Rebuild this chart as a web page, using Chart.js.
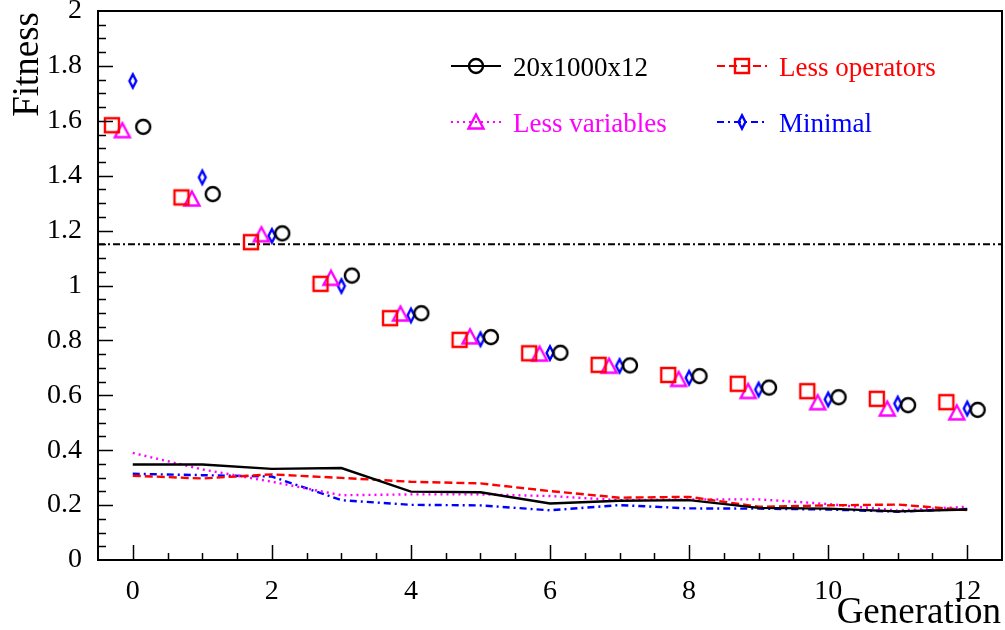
<!DOCTYPE html>
<html>
<head>
<meta charset="utf-8">
<script src="https://cdn.jsdelivr.net/npm/chart.js@4"></script>
<style>
  body { margin: 0; background: #fff; }
  #chart { display: block; }
</style>
</head>
<body>
<canvas id="chart" width="1005" height="630"></canvas>
<script>
var generations = [0, 1, 2, 3, 4, 5, 6, 7, 8, 9, 10, 11, 12];
var seriesNames = ['20x1000x12', 'Less operators', 'Less variables', 'Minimal'];

// best fitness per generation (markers)
var bestFull      = [1.578, 1.333, 1.190, 1.036, 0.899, 0.812, 0.755, 0.709, 0.670, 0.628, 0.593, 0.564, 0.547];
var bestLessOps   = [1.584, 1.321, 1.158, 1.006, 0.881, 0.802, 0.753, 0.711, 0.674, 0.642, 0.615, 0.587, 0.575];
var bestLessVars  = [1.564, 1.315, 1.185, 1.026, 0.896, 0.813, 0.750, 0.706, 0.658, 0.614, 0.573, 0.550, 0.536];
var bestMinimal   = [1.745, 1.394, 1.181, 0.998, 0.891, 0.804, 0.754, 0.707, 0.664, 0.621, 0.585, 0.570, 0.552];

// lower curves
var lowFull       = [0.348, 0.348, 0.332, 0.335, 0.249, 0.247, 0.206, 0.216, 0.218, 0.190, 0.187, 0.177, 0.184];
var lowLessOps    = [0.307, 0.297, 0.312, 0.299, 0.285, 0.279, 0.251, 0.227, 0.230, 0.194, 0.199, 0.202, 0.182];
var lowLessVars   = [0.390, 0.330, 0.285, 0.236, 0.239, 0.239, 0.233, 0.218, 0.221, 0.221, 0.204, 0.180, 0.194];
var lowMinimal    = [0.314, 0.309, 0.304, 0.218, 0.201, 0.199, 0.181, 0.200, 0.188, 0.187, 0.184, 0.176, 0.186];

var refLevel = 1.15;
var xTickLabels = [0, 2, 4, 6, 8, 10, 12];
var yTickLabels = [0, 0.2, 0.4, 0.6, 0.8, 1, 1.2, 1.4, 1.6, 1.8, 2];

var xMin = -0.5, xMax = 12.5;
var markerOffsets = [0.15, -0.3, -0.15, 0];
var colors = ['#000000', '#ff0000', '#ff00ff', '#0000ff'];
var dashes = [[], [8, 4], [2, 4], [7, 4, 2, 4]];
var serif = "'Liberation Serif', 'Times New Roman', serif";

function makeMarker(shape, color) {
  var c = document.createElement('canvas');
  c.width = 22; c.height = 22;
  var ctx = c.getContext('2d');
  ctx.strokeStyle = color;
  ctx.lineWidth = 2.4;
  ctx.beginPath();
  if (shape == 'circle') {
    ctx.arc(11, 11, 7, 0, Math.PI * 2);
  } else if (shape == 'square') {
    ctx.rect(4, 4, 14, 14);
  } else if (shape == 'triangle') {
    ctx.moveTo(11, 3.5);
    ctx.lineTo(18.5, 17.5);
    ctx.lineTo(3.5, 17.5);
    ctx.closePath();
  } else {
    ctx.moveTo(11, 4.3);
    ctx.lineTo(14.4, 11);
    ctx.lineTo(11, 17.7);
    ctx.lineTo(7.6, 11);
    ctx.closePath();
  }
  ctx.stroke();
  return c;
}

var markers = [
  makeMarker('circle', colors[0]),
  makeMarker('square', colors[1]),
  makeMarker('triangle', colors[2]),
  makeMarker('diamond', colors[3])
];

var bestSeries = [bestFull, bestLessOps, bestLessVars, bestMinimal];
var lowSeries = [lowFull, lowLessOps, lowLessVars, lowMinimal];

var datasets = [];
for (let i = 0; i < 4; i++) {
  datasets.push({
    label: seriesNames[i],
    data: generations.map((g, k) => ({ x: g + markerOffsets[i], y: bestSeries[i][k] })),
    showLine: false,
    pointStyle: markers[i],
    pointRadius: 8,
    pointHoverRadius: 8
  });
}
for (let i = 0; i < 4; i++) {
  datasets.push({
    label: seriesNames[i] + ' low',
    data: generations.map((g, k) => ({ x: g, y: lowSeries[i][k] })),
    showLine: true,
    borderColor: colors[i],
    borderWidth: 2.4,
    borderDash: dashes[i],
    pointRadius: 0,
    tension: 0
  });
}
datasets.push({
  label: 'reference',
  data: [{ x: xMin, y: refLevel }, { x: xMax, y: refLevel }],
  showLine: true,
  borderColor: '#000',
  borderWidth: 2,
  borderDash: [7, 3, 2, 3],
  pointRadius: 0
});

// frame, inside ticks, axis titles and the two-row legend
var decorations = {
  id: 'decorations',
  afterDatasetsDraw(chart) {
    var ctx = chart.ctx;
    var a = chart.chartArea;
    var xs = chart.scales.x, ys = chart.scales.y;
    ctx.save();
    ctx.strokeStyle = '#000';
    ctx.lineWidth = 2;
    ctx.setLineDash([]);
    ctx.strokeRect(a.left, a.top, a.right - a.left, a.bottom - a.top);

    ctx.lineWidth = 1.5;
    ctx.beginPath();
    for (let i = 1; i < 40; i++) {
      let py = Math.round(ys.getPixelForValue(i * 0.05)) + 0.5;
      let len = (i % 4 == 0) ? 15 : 8;
      ctx.moveTo(a.left, py);
      ctx.lineTo(a.left + len, py);
    }
    for (let i = 0; i <= 24; i++) {
      let px = Math.round(xs.getPixelForValue(i * 0.5)) + 0.5;
      let len = (i % 4 == 0) ? 15 : 7;
      ctx.moveTo(px, a.bottom);
      ctx.lineTo(px, a.bottom - len);
    }
    ctx.stroke();

    ctx.fillStyle = '#000';
    ctx.font = '37px ' + serif;
    ctx.textBaseline = 'alphabetic';
    ctx.textAlign = 'right';
    ctx.fillText('Generation', 1001, 623);
    ctx.save();
    ctx.translate(38, 12);
    ctx.rotate(-Math.PI / 2);
    ctx.fillText('Fitness', 0, 0);
    ctx.restore();

    var legendX = [451, 717], legendY = [66, 122];
    ctx.font = '27px ' + serif;
    ctx.textAlign = 'left';
    [0, 1, 2, 3].forEach(function(i) {
      var lx = legendX[i % 2], ly = legendY[Math.floor(i / 2)];
      ctx.strokeStyle = colors[i];
      ctx.lineWidth = 2;
      ctx.setLineDash(dashes[i]);
      ctx.beginPath();
      ctx.moveTo(lx, ly);
      ctx.lineTo(lx + 50, ly);
      ctx.stroke();
      ctx.setLineDash([]);
      ctx.drawImage(markers[i], lx + 25 - 11, ly - 11);
      ctx.fillStyle = colors[i];
      ctx.fillText(seriesNames[i], lx + 62, ly + 10);
    });
    ctx.restore();
  }
};

Chart.defaults.font.family = serif;
Chart.defaults.color = '#000';

new Chart(document.getElementById('chart'), {
  type: 'scatter',
  data: { datasets: datasets },
  options: {
    responsive: false,
    animation: false,
    events: [],
    layout: { autoPadding: false, padding: { left: 0, right: 3, top: 11, bottom: 0 } },
    plugins: { legend: { display: false }, tooltip: { enabled: false } },
    scales: {
      x: {
        type: 'linear',
        min: xMin,
        max: xMax,
        grid: { display: false, drawTicks: false },
        border: { display: false },
        afterBuildTicks: function(scale) {
          scale.ticks = xTickLabels.map(v => ({ value: v }));
        },
        afterFit: function(scale) {
          scale.height = 70;
          scale.paddingLeft = 0;
          scale.paddingRight = 0;
        },
        ticks: {
          font: { size: 28 },
          padding: 15,
          maxRotation: 0,
          autoSkip: false,
          callback: function(v) { return String(v); }
        }
      },
      y: {
        type: 'linear',
        min: 0,
        max: 2,
        grid: { display: false, drawTicks: false },
        border: { display: false },
        afterBuildTicks: function(scale) {
          scale.ticks = yTickLabels.map(v => ({ value: v }));
        },
        afterFit: function(scale) {
          scale.width = 98;
          scale.paddingTop = 0;
          scale.paddingBottom = 0;
        },
        ticks: {
          font: { size: 28 },
          padding: 16,
          autoSkip: false,
          callback: function(v) { return String(Math.round(v * 10) / 10); }
        }
      }
    }
  },
  plugins: [decorations]
});
</script>
</body>
</html>
